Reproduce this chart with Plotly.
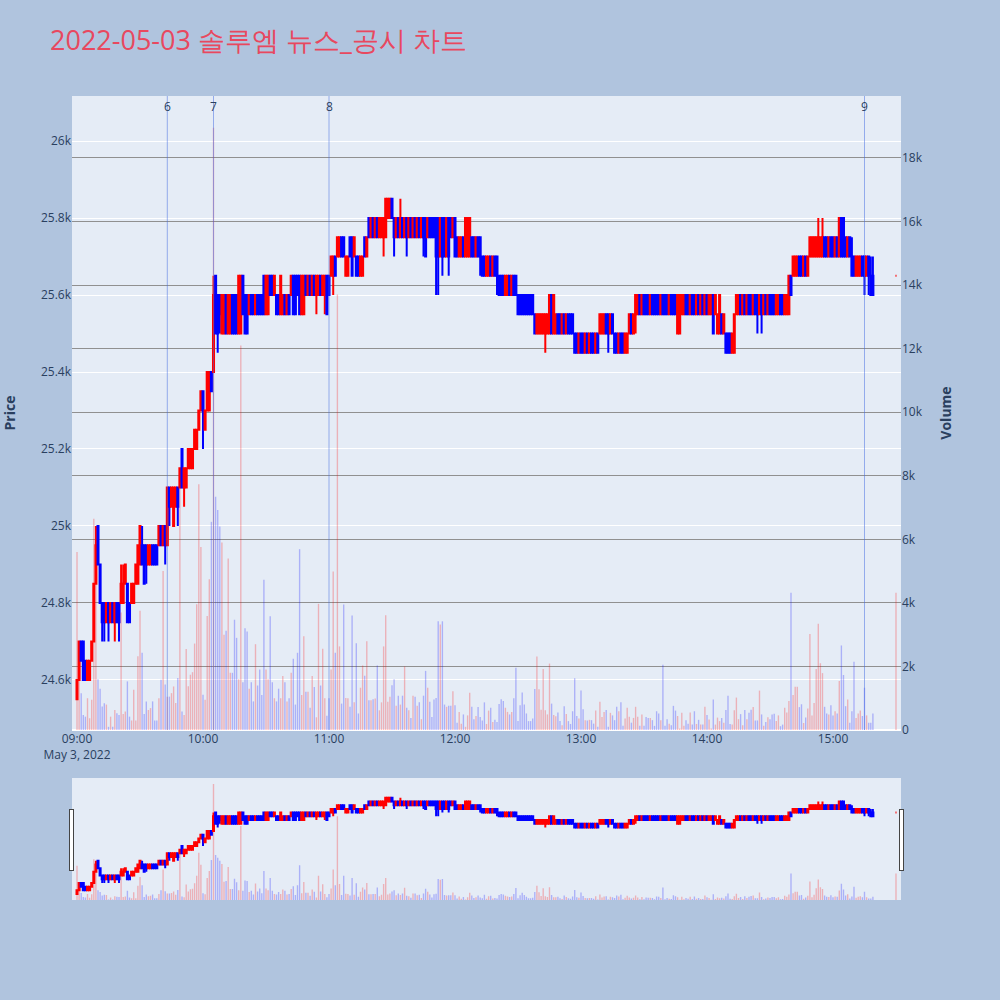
import pandas as pd
import plotly.graph_objects as go
from plotly.subplots import make_subplots

# ---------------- data ----------------
title_text = "2022-05-03 솔루엠 뉴스_공시 차트"
session_start = "2022-05-03 09:00"
session_last = "2022-05-03 15:19"
closing_auction = "2022-05-03 15:30"

opens = [
    24550, 24600, 24700, 24700, 24650, 24600, 24600, 24650, 24700, 24850,
    25000, 24900, 24800, 24800, 24750, 24800, 24750, 24800, 24750, 24800,
    24800, 24800, 24800, 24850, 24850, 24800, 24800, 24800, 24850, 24850,
    24900, 24950, 24950, 24950, 24900, 24900, 24950, 24950, 24950, 24950,
    25000, 24950, 25000, 24950, 25100, 25050, 25000, 25050, 25100, 25100,
    25200, 25100, 25100, 25150, 25150, 25150, 25200, 25200, 25250, 25300,
    25350, 25250, 25300, 25300, 25400, 25400, 25650, 25600, 25600, 25500,
    25500, 25600, 25500, 25500, 25600, 25600, 25600, 25500, 25500, 25650,
    25600, 25600, 25550, 25600, 25600, 25550, 25600, 25600, 25600, 25650,
    25550, 25550, 25650, 25650, 25600, 25600, 25600, 25550, 25550, 25600,
    25550, 25600, 25600, 25650, 25650, 25650, 25650, 25550, 25550, 25650,
    25600, 25650, 25600, 25650, 25600, 25600, 25650, 25600, 25600, 25650,
    25650, 25650, 25650, 25700, 25700, 25700, 25750, 25750, 25650, 25650,
    25750, 25750, 25700, 25700, 25700, 25650, 25650, 25750, 25700, 25800,
    25750, 25800, 25750, 25800, 25750, 25750, 25750, 25750, 25800, 25800,
    25850, 25800, 25750, 25800, 25750, 25800, 25750, 25800, 25750, 25800,
    25750, 25800, 25750, 25800, 25750, 25800, 25800, 25750, 25800, 25800,
    25800, 25800, 25800, 25700, 25800, 25800, 25700, 25800, 25800, 25750,
    25800, 25750, 25700, 25700, 25750, 25700, 25700, 25700, 25750, 25750,
    25700, 25750, 25750, 25700, 25700, 25650, 25650, 25700, 25650, 25700,
    25700, 25650, 25650, 25650, 25600, 25600, 25650, 25600, 25650, 25650,
    25600, 25600, 25600, 25600, 25600, 25600, 25600, 25600, 25550, 25500,
    25500, 25500, 25500, 25500, 25500, 25500, 25600, 25500, 25500, 25550,
    25550, 25500, 25550, 25500, 25550, 25550, 25550, 25500, 25500, 25450,
    25500, 25500, 25450, 25500, 25450, 25500, 25500, 25450, 25500, 25500,
    25500, 25500, 25550, 25550, 25500, 25550, 25500, 25500, 25450, 25500,
    25500, 25450, 25450, 25500, 25550, 25500, 25550, 25550, 25600, 25550,
    25600, 25600, 25600, 25550, 25600, 25600, 25600, 25600, 25550, 25600,
    25600, 25600, 25550, 25600, 25600, 25600, 25500, 25500, 25550, 25550,
    25600, 25600, 25550, 25600, 25600, 25550, 25600, 25550, 25600, 25550,
    25600, 25550, 25550, 25600, 25550, 25500, 25500, 25550, 25500, 25500,
    25500, 25500, 25450, 25450, 25550, 25550, 25600, 25550, 25600, 25550,
    25600, 25600, 25550, 25600, 25600, 25550, 25600, 25550, 25600, 25550,
    25600, 25600, 25600, 25550, 25550, 25600, 25600, 25550, 25550, 25550,
    25650, 25650, 25650, 25650, 25700, 25700, 25650, 25700, 25650, 25700,
    25700, 25700, 25700, 25700, 25700, 25700, 25750, 25750, 25700, 25750,
    25750, 25700, 25750, 25700, 25800, 25800, 25750, 25700, 25750, 25700,
    25700, 25650, 25650, 25650, 25700, 25700, 25650, 25700, 25650, 25650,
    25650,
]
closes = [
    24600, 24700, 24650, 24600, 24600, 24650, 24650, 24700, 24850, 24950,
    24900, 24800, 24750, 24750, 24800, 24750, 24800, 24750, 24800, 24750,
    24750, 24850, 24850, 24900, 24750, 24750, 24850, 24850, 24900, 24950,
    25000, 24900, 24850, 24900, 24950, 24950, 24900, 24900, 24900, 25000,
    24950, 25000, 24950, 25100, 25050, 25100, 25100, 25100, 25050, 25150,
    25100, 25150, 25150, 25200, 25200, 25200, 25250, 25250, 25300, 25350,
    25300, 25300, 25400, 25400, 25350, 25600, 25500, 25500, 25550, 25600,
    25600, 25500, 25600, 25600, 25500, 25500, 25500, 25650, 25650, 25550,
    25500, 25500, 25600, 25550, 25550, 25600, 25550, 25550, 25550, 25550,
    25650, 25650, 25600, 25600, 25650, 25550, 25550, 25650, 25600, 25550,
    25600, 25550, 25650, 25550, 25550, 25600, 25550, 25650, 25650, 25600,
    25650, 25600, 25650, 25600, 25650, 25650, 25600, 25650, 25650, 25550,
    25600, 25700, 25700, 25650, 25750, 25750, 25700, 25700, 25700, 25700,
    25700, 25650, 25750, 25650, 25650, 25700, 25700, 25700, 25750, 25750,
    25800, 25750, 25800, 25750, 25800, 25800, 25800, 25850, 25850, 25850,
    25800, 25750, 25800, 25750, 25800, 25750, 25800, 25750, 25800, 25750,
    25800, 25750, 25800, 25750, 25800, 25750, 25700, 25800, 25750, 25750,
    25750, 25700, 25700, 25800, 25700, 25700, 25800, 25700, 25750, 25800,
    25700, 25700, 25750, 25750, 25700, 25800, 25800, 25800, 25700, 25700,
    25750, 25700, 25700, 25650, 25650, 25700, 25700, 25650, 25700, 25650,
    25650, 25600, 25600, 25600, 25650, 25650, 25600, 25650, 25600, 25600,
    25550, 25550, 25550, 25550, 25550, 25550, 25550, 25550, 25500, 25550,
    25550, 25550, 25550, 25550, 25550, 25600, 25500, 25600, 25550, 25500,
    25500, 25550, 25500, 25550, 25500, 25500, 25500, 25450, 25450, 25500,
    25450, 25450, 25500, 25450, 25500, 25450, 25450, 25500, 25450, 25550,
    25550, 25550, 25500, 25500, 25550, 25500, 25450, 25450, 25500, 25450,
    25450, 25500, 25500, 25550, 25500, 25550, 25600, 25600, 25550, 25600,
    25550, 25550, 25550, 25600, 25550, 25550, 25550, 25550, 25600, 25550,
    25550, 25550, 25600, 25550, 25550, 25550, 25600, 25600, 25600, 25600,
    25550, 25550, 25600, 25550, 25550, 25600, 25550, 25600, 25550, 25600,
    25550, 25600, 25600, 25500, 25600, 25550, 25600, 25500, 25550, 25450,
    25450, 25450, 25500, 25550, 25600, 25600, 25550, 25600, 25550, 25600,
    25550, 25550, 25600, 25550, 25550, 25600, 25550, 25600, 25550, 25600,
    25550, 25550, 25550, 25600, 25600, 25550, 25550, 25600, 25600, 25650,
    25600, 25700, 25700, 25700, 25650, 25650, 25700, 25650, 25700, 25750,
    25750, 25750, 25750, 25750, 25750, 25750, 25700, 25700, 25750, 25700,
    25700, 25750, 25700, 25800, 25700, 25700, 25700, 25750, 25700, 25650,
    25650, 25700, 25700, 25700, 25650, 25650, 25700, 25650, 25600, 25600,
    25650,
]
highs = [
    24600, 24700, 24700, 24700, 24650, 24650, 24650, 24700, 24850, 25000,
    25000, 24900, 24800, 24800, 24800, 24800, 24800, 24800, 24800, 24800,
    24800, 24900, 24900, 24900, 24850, 24800, 24850, 24850, 24900, 24950,
    25000, 25000, 24950, 24950, 24950, 24950, 24950, 24950, 24950, 25000,
    25000, 25000, 25000, 25100, 25100, 25100, 25100, 25100, 25100, 25150,
    25200, 25150, 25150, 25200, 25200, 25200, 25250, 25250, 25300, 25350,
    25350, 25300, 25400, 25400, 25400, 25650, 25650, 25600, 25600, 25600,
    25600, 25600, 25600, 25600, 25600, 25600, 25600, 25650, 25650, 25650,
    25600, 25600, 25600, 25600, 25600, 25600, 25600, 25600, 25600, 25650,
    25650, 25650, 25650, 25650, 25650, 25600, 25600, 25650, 25600, 25600,
    25600, 25600, 25650, 25650, 25650, 25650, 25650, 25650, 25650, 25650,
    25650, 25650, 25650, 25650, 25650, 25650, 25650, 25650, 25650, 25650,
    25650, 25700, 25700, 25700, 25750, 25750, 25750, 25750, 25700, 25700,
    25750, 25750, 25750, 25700, 25700, 25700, 25700, 25750, 25750, 25800,
    25800, 25800, 25800, 25800, 25800, 25800, 25800, 25850, 25850, 25850,
    25850, 25800, 25800, 25800, 25850, 25800, 25800, 25800, 25800, 25800,
    25800, 25800, 25800, 25800, 25800, 25800, 25800, 25800, 25800, 25800,
    25800, 25800, 25800, 25800, 25800, 25800, 25800, 25800, 25800, 25800,
    25800, 25750, 25750, 25750, 25750, 25800, 25800, 25800, 25750, 25750,
    25750, 25750, 25750, 25700, 25700, 25700, 25700, 25700, 25700, 25700,
    25700, 25650, 25650, 25650, 25650, 25650, 25650, 25650, 25650, 25650,
    25600, 25600, 25600, 25600, 25600, 25600, 25600, 25600, 25550, 25550,
    25550, 25550, 25550, 25550, 25550, 25600, 25600, 25600, 25550, 25550,
    25550, 25550, 25550, 25550, 25550, 25550, 25550, 25500, 25500, 25500,
    25500, 25500, 25500, 25500, 25500, 25500, 25500, 25500, 25500, 25550,
    25550, 25550, 25550, 25550, 25550, 25550, 25500, 25500, 25500, 25500,
    25500, 25500, 25500, 25550, 25550, 25550, 25600, 25600, 25600, 25600,
    25600, 25600, 25600, 25600, 25600, 25600, 25600, 25600, 25600, 25600,
    25600, 25600, 25600, 25600, 25600, 25600, 25600, 25600, 25600, 25600,
    25600, 25600, 25600, 25600, 25600, 25600, 25600, 25600, 25600, 25600,
    25600, 25600, 25600, 25600, 25600, 25550, 25600, 25550, 25550, 25500,
    25500, 25500, 25500, 25550, 25600, 25600, 25600, 25600, 25600, 25600,
    25600, 25600, 25600, 25600, 25600, 25600, 25600, 25600, 25600, 25600,
    25600, 25600, 25600, 25600, 25600, 25600, 25600, 25600, 25600, 25650,
    25650, 25700, 25700, 25700, 25700, 25700, 25700, 25700, 25700, 25750,
    25750, 25750, 25750, 25800, 25750, 25800, 25750, 25750, 25750, 25750,
    25750, 25750, 25750, 25800, 25800, 25800, 25750, 25750, 25750, 25750,
    25700, 25700, 25700, 25700, 25700, 25700, 25700, 25700, 25700, 25700,
    25650,
]
lows = [
    24550, 24600, 24650, 24600, 24600, 24600, 24600, 24650, 24700, 24850,
    24900, 24800, 24700, 24700, 24750, 24700, 24750, 24750, 24700, 24750,
    24700, 24800, 24800, 24850, 24750, 24750, 24800, 24800, 24850, 24850,
    24900, 24900, 24850, 24850, 24900, 24900, 24900, 24900, 24900, 24950,
    24950, 24950, 24900, 24950, 25000, 25050, 25000, 25050, 25000, 25100,
    25100, 25050, 25100, 25150, 25150, 25150, 25200, 25200, 25250, 25300,
    25200, 25250, 25300, 25300, 25350, 25400, 25500, 25450, 25500, 25500,
    25500, 25500, 25500, 25500, 25500, 25500, 25500, 25500, 25500, 25550,
    25500, 25500, 25550, 25550, 25550, 25550, 25550, 25550, 25550, 25550,
    25550, 25550, 25600, 25600, 25600, 25550, 25550, 25550, 25550, 25550,
    25550, 25550, 25600, 25550, 25550, 25600, 25550, 25550, 25550, 25600,
    25600, 25600, 25600, 25600, 25550, 25600, 25600, 25600, 25550, 25550,
    25600, 25650, 25600, 25650, 25700, 25700, 25700, 25700, 25650, 25650,
    25700, 25650, 25700, 25650, 25650, 25650, 25650, 25700, 25700, 25750,
    25750, 25750, 25750, 25750, 25750, 25750, 25700, 25750, 25800, 25800,
    25800, 25700, 25750, 25750, 25750, 25750, 25750, 25700, 25750, 25750,
    25750, 25750, 25750, 25750, 25750, 25700, 25700, 25750, 25750, 25750,
    25750, 25600, 25600, 25700, 25650, 25700, 25700, 25650, 25750, 25750,
    25700, 25700, 25700, 25700, 25700, 25700, 25700, 25700, 25700, 25700,
    25700, 25700, 25650, 25650, 25650, 25650, 25650, 25650, 25650, 25650,
    25600, 25600, 25600, 25600, 25600, 25600, 25600, 25600, 25600, 25600,
    25550, 25550, 25550, 25550, 25550, 25550, 25550, 25550, 25500, 25500,
    25500, 25500, 25500, 25450, 25500, 25500, 25500, 25500, 25500, 25500,
    25500, 25500, 25500, 25500, 25500, 25500, 25500, 25450, 25450, 25450,
    25450, 25450, 25450, 25450, 25450, 25450, 25450, 25450, 25450, 25500,
    25500, 25500, 25500, 25450, 25500, 25500, 25450, 25450, 25450, 25450,
    25450, 25450, 25450, 25500, 25500, 25500, 25500, 25550, 25550, 25550,
    25550, 25550, 25550, 25550, 25550, 25550, 25550, 25550, 25550, 25550,
    25550, 25550, 25550, 25550, 25550, 25550, 25500, 25500, 25550, 25550,
    25550, 25550, 25550, 25550, 25550, 25550, 25550, 25550, 25550, 25550,
    25550, 25550, 25550, 25500, 25550, 25500, 25500, 25500, 25500, 25450,
    25450, 25450, 25450, 25450, 25550, 25550, 25550, 25550, 25550, 25550,
    25550, 25550, 25550, 25550, 25500, 25550, 25500, 25550, 25550, 25550,
    25550, 25550, 25550, 25550, 25550, 25550, 25550, 25550, 25550, 25550,
    25600, 25650, 25650, 25650, 25650, 25650, 25650, 25650, 25650, 25700,
    25700, 25700, 25700, 25700, 25700, 25700, 25700, 25700, 25700, 25700,
    25700, 25700, 25700, 25700, 25700, 25700, 25700, 25700, 25700, 25650,
    25650, 25650, 25650, 25650, 25650, 25600, 25650, 25600, 25600, 25600,
    25650,
]
volumes = [
    5600, 1850, 1160, 475, 420, 1000, 370, 950, 6650, 6300,
    1600, 1300, 740, 845, 800, 100, 420, 100, 630, 530,
    475, 3700, 500, 580, 1530, 420, 300, 1270, 300, 2320,
    3750, 2430, 500, 900, 630, 690, 900, 300, 300, 1000,
    1580, 5000, 1430, 1050, 1050, 1160, 1370, 850, 1640, 7800,
    580, 470, 2550, 1380, 1740, 1820, 2720, 3960, 7730, 5760,
    1110, 950, 3590, 4740, 6550, 18950, 7340, 6920, 6400, 5900,
    3000, 3120, 5400, 1800, 1800, 3470, 2900, 1600, 12100, 1500,
    3200, 3100, 1300, 1500, 900, 2700, 1400, 1900, 1100, 4730,
    1900, 1600, 3580, 1500, 1000, 900, 1300, 1000, 1700, 1500,
    900, 1000, 1800, 2240, 800, 2430, 5690, 1100, 2950, 1200,
    1200, 700, 1700, 1350, 400, 3970, 1400, 2560, 1000, 450,
    1000, 1900, 4990, 2430, 13700, 2630, 830, 3950, 1010, 1000,
    730, 3600, 870, 2730, 520, 1330, 2030, 1710, 2790, 940,
    940, 970, 990, 2030, 620, 870, 2630, 3610, 890, 1050,
    1410, 1600, 760, 1080, 800, 1080, 2000, 700, 620, 380,
    1080, 1050, 760, 870, 340, 1080, 1860, 1330, 890, 410,
    960, 1010, 3420, 3320, 3420, 800, 730, 760, 760, 1220,
    780, 230, 570, 200, 490, 100, 460, 1170, 730, 340,
    440, 720, 410, 300, 870, 190, 610, 700, 250, 320,
    250, 820, 970, 910, 700, 570, 490, 570, 1000, 1960,
    280, 780, 1180, 800, 520, 280, 280, 360, 1290, 2310,
    1280, 640, 1920, 620, 490, 2090, 830, 470, 430, 550,
    280, 150, 750, 500, 280, 190, 590, 1630, 440, 360,
    1240, 650, 310, 300, 320, 310, 200, 610, 100, 890,
    410, 570, 630, 100, 540, 460, 310, 730, 590, 870,
    130, 360, 700, 420, 230, 380, 730, 420, 130, 490,
    130, 410, 380, 380, 310, 130, 590, 520, 310, 2050,
    130, 340, 200, 150, 760, 610, 440, 50, 540, 130,
    310, 200, 550, 170, 590, 190, 320, 170, 170, 730,
    470, 330, 50, 960, 170, 390, 280, 380, 230, 630,
    1080, 190, 170, 620, 1020, 340, 500, 150, 630, 340,
    540, 640, 720, 300, 300, 1240, 490, 130, 250, 400,
    340, 490, 510, 280, 460, 120, 170, 700, 550, 910,
    4320, 1100, 1360, 1360, 720, 810, 220, 390, 680, 3020,
    460, 850, 1920, 3340, 2100, 1790, 730, 520, 490, 780,
    460, 590, 520, 1540, 2660, 1730, 750, 960, 230, 590,
    2150, 380, 520, 610, 440, 1330, 460, 230, 230, 520,
    4320,
]
event_times = ["2022-05-03 09:43", "2022-05-03 10:05", "2022-05-03 11:00", "2022-05-03 15:15"]
event_labels = ["6", "7", "8", "9"]

# ---------------- build ----------------
times = list(pd.date_range(session_start, session_last, freq="min")) + [pd.Timestamp(closing_auction)]

UP, DOWN = "red", "blue"
vol_colors = ["rgba(255,0,0,0.25)" if c >= o else "rgba(0,0,255,0.25)" for o, c in zip(opens, closes)]

fig = make_subplots(specs=[[{"secondary_y": True}]])
fig.add_trace(go.Candlestick(
    x=times, open=opens, high=highs, low=lows, close=closes,
    increasing_line_color=UP, decreasing_line_color=DOWN,
    increasing_fillcolor=UP, decreasing_fillcolor=DOWN,
    showlegend=False, name="Price"), secondary_y=False)
fig.add_trace(go.Bar(x=times, y=volumes, marker_color=vol_colors, marker_line_width=0,
                     showlegend=False, name="Volume"), secondary_y=True)

for t, lab in zip(event_times, event_labels):
    fig.add_shape(type="line", xref="x", yref="paper", x0=t, x1=t, y0=0, y1=1,
                  line=dict(color="rgba(65,105,225,0.5)", width=1))
    fig.add_annotation(x=t, y=1, xref="x", yref="paper", text=lab, showarrow=False,
                       font=dict(size=12, color="#2a3f5f"))

fig.update_layout(
    width=1000, height=1000,
    paper_bgcolor="lightsteelblue",
    plot_bgcolor="#E5ECF6",
    margin=dict(l=72, r=99, t=96, b=100),
    title=dict(text=title_text, x=0.05, xanchor="left", y=0.959, yanchor="middle",
               font=dict(size=27, color="rgb(232,72,95)")),
    bargap=0.35,
)
fig.update_xaxes(domain=[0, 1], range=["2022-05-03 08:57:37", "2022-05-03 15:32:23"],
                 dtick=3600000, tick0="2022-05-03 09:00", automargin=False,
                 rangeslider=dict(visible=True, bgcolor="#E5ECF6", thickness=0.152))
fig.update_yaxes(title_text="<b>Price</b>", title_standoff=22, range=[24470, 26117], dtick=200,
                 automargin=False, secondary_y=False)
fig.update_yaxes(title_text="<b>Volume</b>", title_standoff=19, range=[0, 19950], dtick=2000,
                 showgrid=True, automargin=False, gridcolor="#909090", secondary_y=True)

fig.write_html("out.html", config={"displayModeBar": False},
               post_script="document.body.style.margin='0';")
